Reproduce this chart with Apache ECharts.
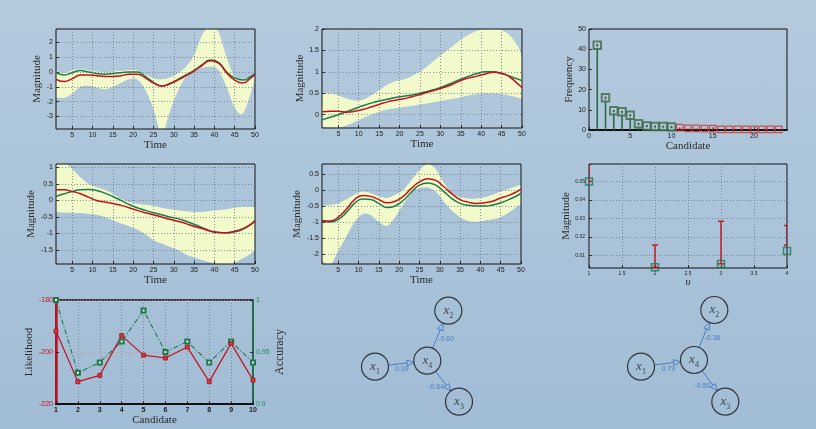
<!DOCTYPE html>
<html>
<head>
<meta charset="utf-8">
<script src="https://cdn.jsdelivr.net/npm/echarts@6/dist/echarts.min.js"></script>
<style>
  html, body { margin: 0; padding: 0; }
  #chart { width: 816px; height: 429px; background: linear-gradient(180deg, #b4cadd 0%, #aac3d9 55%, #a1bcd5 100%); }
</style>
</head>
<body>
<div id="chart"></div>
<script>
// ---- time samples shared by the four regression panels ----
const tGrid = [1, 3, 5, 7, 9, 11, 13, 15, 17, 19, 21, 23, 25, 27, 29, 31, 33, 35, 37, 39, 41, 43, 45, 47, 49, 50];
const timeTicks = [5, 10, 15, 20, 25, 30, 35, 40, 45, 50];

// panel A (top left)
const aLower = [-1.7, -1.75, -1.45, -1.0, -0.93, -1.05, -1.17, -1.02, -0.75, -0.5, -0.5, -1.2, -2.5, -4.2, -2.7, -1.3, -0.3, 0.1, 0.28, 0.35, 0.15, -1.0, -2.4, -2.8, -1.4, -0.35];
const aUpper = [0.05, -0.05, 0.1, 0.2, 0.12, 0.03, -0.02, 0.03, 0.08, 0.12, 0.1, -0.15, -0.42, -0.5, -0.38, -0.1, 0.35, 1.15, 2.5, 3.1, 2.7, 1.0, -0.3, -0.45, -0.3, -0.1];
const aGreen = [-0.05, -0.2, -0.05, 0.1, 0.0, -0.1, -0.15, -0.1, -0.05, 0.0, 0.0, -0.3, -0.7, -0.95, -0.8, -0.5, -0.2, 0.1, 0.5, 0.8, 0.65, 0.0, -0.4, -0.55, -0.3, -0.1];
const aRed = [-0.5, -0.65, -0.45, -0.2, -0.2, -0.25, -0.3, -0.3, -0.25, -0.15, -0.15, -0.4, -0.75, -0.95, -0.8, -0.55, -0.25, 0.05, 0.45, 0.75, 0.6, -0.05, -0.55, -0.75, -0.4, -0.15];
const aTicks = [-3, -2, -1, 0, 1, 2];

// panel B (top middle)
const bLower = [-0.28, -0.3, -0.3, -0.25, -0.17, -0.08, 0.0, 0.07, 0.12, 0.15, 0.18, 0.21, 0.24, 0.27, 0.3, 0.34, 0.37, 0.41, 0.45, 0.48, 0.5, 0.5, 0.48, 0.45, 0.4, 0.37];
const bUpper = [0.47, 0.5, 0.45, 0.38, 0.33, 0.35, 0.45, 0.57, 0.7, 0.78, 0.82, 0.9, 1.0, 1.15, 1.3, 1.45, 1.6, 1.75, 1.87, 1.96, 2.0, 2.02, 1.97, 1.85, 1.6, 1.35];
const bGreen = [-0.12, -0.06, 0.0, 0.07, 0.14, 0.21, 0.27, 0.32, 0.36, 0.4, 0.43, 0.46, 0.5, 0.55, 0.6, 0.67, 0.75, 0.83, 0.9, 0.96, 1.0, 1.0, 0.96, 0.9, 0.83, 0.79];
const bRed = [0.07, 0.08, 0.08, 0.06, 0.08, 0.12, 0.18, 0.24, 0.3, 0.34, 0.37, 0.42, 0.47, 0.53, 0.58, 0.64, 0.71, 0.8, 0.86, 0.9, 0.95, 0.99, 0.97, 0.88, 0.72, 0.63];
const bTicks = [0, 0.5, 1, 1.5, 2];

// panel C (middle left)
const cLower = [-0.35, -0.37, -0.37, -0.38, -0.4, -0.43, -0.5, -0.6, -0.7, -0.78, -0.88, -1.02, -1.2, -1.3, -1.4, -1.5, -1.63, -1.72, -1.8, -1.87, -1.92, -1.95, -1.88, -1.75, -1.6, -1.48];
const cUpper = [1.1, 1.15, 0.95, 0.7, 0.5, 0.4, 0.32, 0.2, 0.05, -0.05, -0.1, -0.13, -0.17, -0.22, -0.27, -0.3, -0.33, -0.35, -0.35, -0.32, -0.3, -0.27, -0.22, -0.2, -0.2, -0.2];
const cGreen = [0.12, 0.2, 0.27, 0.32, 0.33, 0.3, 0.22, 0.12, 0.0, -0.12, -0.22, -0.3, -0.37, -0.43, -0.5, -0.55, -0.63, -0.72, -0.82, -0.92, -0.97, -0.98, -0.95, -0.87, -0.72, -0.6];
const cRed = [0.32, 0.32, 0.27, 0.2, 0.1, 0.0, -0.05, -0.09, -0.15, -0.22, -0.3, -0.37, -0.43, -0.5, -0.57, -0.63, -0.7, -0.78, -0.85, -0.93, -0.97, -0.98, -0.93, -0.85, -0.72, -0.63];
const cTicks = [-1.5, -1, -0.5, 0, 0.5, 1];

// panel D (middle centre)
const dLower = [-2.2, -2.35, -1.9, -1.45, -1.0, -0.75, -0.78, -1.0, -1.12, -0.85, -0.45, -0.1, 0.05, 0.08, -0.05, -0.36, -0.65, -0.85, -0.97, -1.0, -0.95, -0.92, -0.85, -0.7, -0.52, -0.45];
const dUpper = [-0.5, -0.47, -0.42, -0.3, -0.15, -0.05, -0.1, -0.2, -0.25, -0.15, 0.0, 0.3, 0.62, 0.8, 0.65, 0.22, -0.1, -0.22, -0.27, -0.27, -0.23, -0.15, -0.05, 0.03, 0.12, 0.16];
const dRed = [-0.95, -0.97, -0.85, -0.6, -0.3, -0.17, -0.2, -0.3, -0.4, -0.35, -0.2, 0.05, 0.25, 0.35, 0.3, 0.1, -0.12, -0.3, -0.38, -0.42, -0.4, -0.35, -0.25, -0.17, -0.05, 0.03];
const dGreen = [-0.97, -1.0, -0.92, -0.7, -0.42, -0.28, -0.3, -0.42, -0.55, -0.5, -0.33, -0.07, 0.15, 0.22, 0.15, -0.05, -0.27, -0.42, -0.48, -0.5, -0.5, -0.47, -0.4, -0.3, -0.18, -0.1];
const dTicks = [-2, -1.5, -1, -0.5, 0, 0.5];

// panel E: candidate frequencies (first ones kept)
const candIds = [1, 2, 3, 4, 5, 6, 7, 8, 9, 10, 11, 12, 13, 14, 15, 16, 17, 18, 19, 20, 21, 22, 23];
const candFreq = [42, 16, 9.5, 9, 7.3, 3.1, 2.0, 1.7, 1.7, 1.5, 1.2, 0.8, 0.8, 0.7, 0.7, 0.3, 0.3, 0.3, 0.3, 0.3, 0.3, 0.3, 0.3];
const candTicks = [0, 5, 10, 15, 20];
const keptCount = 10;

// panel F: magnitude estimates with error bars
const upsX = [1, 2, 3, 4];
const upsMag = [0.050, 0.0037, 0.0055, 0.0125];
const upsErrLow = [0.050, 0.0037, 0.0055, 0.0156];
const upsErrHigh = [0.0592, 0.0157, 0.0285, 0.0262];
const upsTicks = [0.01, 0.02, 0.03, 0.04, 0.05];

// panel G: likelihood and accuracy per candidate
const gCand = [1, 2, 3, 4, 5, 6, 7, 8, 9, 10];
const gLikelihood = [-192.0, -211.4, -209.0, -193.7, -201.2, -202.3, -198.1, -211.4, -196.7, -210.8];
const gAccuracy = [1.0, 0.930, 0.940, 0.960, 0.990, 0.950, 0.960, 0.940, 0.960, 0.940];

// networks: node layout (x1..x4) and weighted edges
const netSubs = ['1', '2', '3', '4'];
const netAPos = [[3.5, 5.33], [10.83, 10.93], [11.9, 1.83], [8.73, 5.93]];
const netBPos = [[3.1, 5.33], [10.43, 11.0], [11.53, 1.83], [8.4, 6.0]];
const netEdges = [[0, 3], [3, 1], [3, 2]];
const netAWeights = [0.39, -0.60, -0.64];
const netBWeights = [0.79, -0.36, -0.50];

// ---- styling ----
const SANS = 'Liberation Sans, Arial, sans-serif';
const SERIF = 'Liberation Serif, DejaVu Serif, serif';
const RED = '#c3121e', GREEN = '#1d7a4b', BAND = '#f2facb', DOT = '#6b7784', EDGE = '#4a7cc6';
const NODE_R = 13.5;

const pairs = (xs, ys) => xs.map((x, i) => [x, ys[i]]);

const grids = [], xAxes = [], yAxes = [], series = [];

function addGrid(rect, opts) {
  grids.push(Object.assign({
    show: true, borderColor: '#111', borderWidth: 1, backgroundColor: 'transparent',
    containLabel: false, outerBoundsMode: 'none'
  }, rect, opts || {}));
  return grids.length - 1;
}

function axis(gi, o) {
  const a = {
    gridIndex: gi, type: 'value', min: o.min, max: o.max,
    axisLine: { show: !!o.line, onZero: false, lineStyle: o.line || {} },
    axisTick: { show: true, inside: true, length: 3, lineStyle: { color: '#111', width: 0.8 } },
    axisLabel: {
      fontSize: o.fs || 7, color: o.labelColor || '#1a1a1a', fontFamily: SANS,
      margin: o.margin !== undefined ? o.margin : 3, fontWeight: o.bold ? 'bold' : 'normal'
    },
    splitLine: o.grid === false ? { show: false }
      : { show: true, lineStyle: { color: o.gridColor || DOT, type: [1, 2], width: 0.8 } },
    name: o.name || '', nameLocation: 'middle', nameGap: o.gap || 10,
    nameTextStyle: {
      fontFamily: SERIF, fontSize: o.nfs || 11, color: '#2a2a2a',
      fontStyle: o.italic ? 'italic' : 'normal'
    }
  };
  if (o.ticks) { a.axisTick.customValues = o.ticks; a.axisLabel.customValues = o.ticks; }
  if (o.interval) a.interval = o.interval;
  if (o.y) a.nameRotate = 90;
  if (o.position) a.position = o.position;
  if (o.hidden) a.show = false;
  return a;
}

// cubic segments through pixel points (Catmull-Rom style)
function splinePath(p) {
  let s = '';
  for (let i = 0; i < p.length - 1; i++) {
    const p0 = p[Math.max(i - 1, 0)], p1 = p[i], p2 = p[i + 1], p3 = p[Math.min(i + 2, p.length - 1)];
    const c1 = [p1[0] + (p2[0] - p0[0]) / 6, p1[1] + (p2[1] - p0[1]) / 6];
    const c2 = [p2[0] - (p3[0] - p1[0]) / 6, p2[1] - (p3[1] - p1[1]) / 6];
    s += 'C' + c1[0] + ',' + c1[1] + ' ' + c2[0] + ',' + c2[1] + ' ' + p2[0] + ',' + p2[1];
  }
  return s;
}

// shaded confidence band between lower and upper bounds
function bandSeries(xi, yi, lower, upper) {
  return {
    type: 'custom', xAxisIndex: xi, yAxisIndex: yi, clip: true, silent: true, z: -1,
    data: tGrid.map((t, i) => [t, lower[i], upper[i]]),
    encode: { x: 0, y: [1, 2] },
    renderItem: (params, api) => {
      if (params.dataIndexInside !== 0) return null;
      const n = params.dataInsideLength;
      const up = [], lo = [];
      for (let j = 0; j < n; j++) {
        up.push(api.coord([api.value(0, j), api.value(2, j)]));
        lo.push(api.coord([api.value(0, j), api.value(1, j)]));
      }
      const loRev = lo.slice().reverse();
      const d = 'M' + up[0][0] + ',' + up[0][1] + splinePath(up) +
        'L' + loRev[0][0] + ',' + loRev[0][1] + splinePath(loRev) + 'Z';
      return { type: 'path', shape: { pathData: d }, style: { fill: BAND } };
    }
  };
}

// regression panel: shaded band, green and red mean curves
function gpPanel(rect, yMin, yMax, yTicks, lower, upper, green, red, yGap) {
  const gi = addGrid(rect);
  xAxes.push(axis(gi, { min: 1, max: 50, ticks: timeTicks, name: 'Time', gap: 7 }));
  yAxes.push(axis(gi, { min: yMin, max: yMax, ticks: yTicks, name: 'Magnitude', gap: yGap, y: true }));
  const xi = xAxes.length - 1, yi = yAxes.length - 1;
  series.push(bandSeries(xi, yi, lower, upper));
  const common = { type: 'line', xAxisIndex: xi, yAxisIndex: yi, smooth: 0.5, symbol: 'none', silent: true };
  series.push(Object.assign({}, common, { data: pairs(tGrid, green), lineStyle: { color: GREEN, width: 1.5 } }));
  series.push(Object.assign({}, common, { data: pairs(tGrid, red), lineStyle: { color: RED, width: 1.5 } }));
}

gpPanel({ left: 56, top: 29, width: 199, height: 100 }, -3.85, 2.9, aTicks, aLower, aUpper, aGreen, aRed, 11);
gpPanel({ left: 322, top: 29, width: 200, height: 99 }, -0.31, 2, bTicks, bLower, bUpper, bGreen, bRed, 13);
gpPanel({ left: 56, top: 164, width: 199, height: 100 }, -1.92, 1.1, cTicks, cLower, cUpper, cGreen, cRed, 18);
gpPanel({ left: 322, top: 164, width: 199, height: 100 }, -2.31, 0.81, dTicks, dLower, dUpper, dGreen, dRed, 19);

// ---- panel E: stem plot of candidate frequencies ----
{
  const gi = addGrid({ left: 589, top: 29, width: 198, height: 101 });
  xAxes.push(axis(gi, { min: 0, max: 24, ticks: candTicks, name: 'Candidate', gap: 8, grid: false,
    line: { color: '#111', width: 1.8 } }));
  yAxes.push(axis(gi, { min: 0, max: 50, interval: 10, name: 'Frequency', gap: 12, y: true, grid: false }));
  const xi = xAxes.length - 1, yi = yAxes.length - 1;
  const isKept = i => i < keptCount;
  series.push({
    type: 'bar', xAxisIndex: xi, yAxisIndex: yi, barWidth: 1.6, silent: true,
    data: candIds.map((c, i) => ({ value: [c, candFreq[i]], itemStyle: { color: isKept(i) ? '#2d6b47' : RED } }))
  });
  series.push({
    type: 'scatter', xAxisIndex: xi, yAxisIndex: yi, symbol: 'rect', silent: true,
    data: candIds.map((c, i) => ({
      value: [c, candFreq[i]],
      symbolSize: isKept(i) ? 7.5 : 6.5,
      itemStyle: isKept(i)
        ? { color: 'rgba(185,205,218,0.9)', borderColor: '#3c6a4b', borderWidth: 2 }
        : { color: 'rgba(0,0,0,0)', borderColor: '#c9322e', borderWidth: 1.2 }
    }))
  });
  series.push({
    type: 'scatter', xAxisIndex: xi, yAxisIndex: yi, symbol: 'rect', symbolSize: 2, silent: true,
    itemStyle: { color: '#2b3a33' },
    data: pairs(candIds.slice(0, keptCount), candFreq.slice(0, keptCount))
  });
}

// ---- panel F: magnitude vs upsilon with error bars ----
{
  const gi = addGrid({ left: 589, top: 164, width: 198, height: 104 });
  xAxes.push(axis(gi, { min: 1, max: 4, interval: 0.5, name: 'υ', italic: true, gap: 5, fs: 5, margin: 3 }));
  yAxes.push(axis(gi, { min: 0.0033, max: 0.0594, ticks: upsTicks, name: 'Magnitude', gap: 14, y: true, fs: 5, margin: 4 }));
  const xi = xAxes.length - 1, yi = yAxes.length - 1;
  series.push({
    type: 'custom', xAxisIndex: xi, yAxisIndex: yi, clip: true, silent: true,
    data: upsX.map((x, i) => [x, upsErrLow[i], upsErrHigh[i]]),
    encode: { x: 0, y: [1, 2] },
    renderItem: (params, api) => {
      const lo = api.coord([api.value(0), api.value(1)]);
      const hi = api.coord([api.value(0), api.value(2)]);
      const cap = 3;
      const st = { stroke: RED, lineWidth: 1.4 };
      return {
        type: 'group', children: [
          { type: 'line', shape: { x1: lo[0], y1: lo[1], x2: hi[0], y2: hi[1] }, style: st },
          { type: 'line', shape: { x1: lo[0] - cap, y1: lo[1], x2: lo[0] + cap, y2: lo[1] }, style: st },
          { type: 'line', shape: { x1: hi[0] - cap, y1: hi[1], x2: hi[0] + cap, y2: hi[1] }, style: st }
        ]
      };
    }
  });
  series.push({
    type: 'scatter', xAxisIndex: xi, yAxisIndex: yi, symbol: 'rect', symbolSize: 7, silent: true,
    itemStyle: { color: 'rgba(0,0,0,0)', borderColor: GREEN, borderWidth: 1.5 },
    data: pairs(upsX, upsMag)
  });
}

// ---- panel G: likelihood (left axis) and accuracy (right axis) ----
{
  const gi = addGrid({ left: 56, top: 300, width: 197, height: 104 }, { borderWidth: 1.5 });
  xAxes.push(axis(gi, { min: 1, max: 10, interval: 1, name: 'Candidate', gap: 8, bold: true,
    line: { color: '#111', width: 2 } }));
  yAxes.push(axis(gi, { min: -220, max: -180, interval: 20, name: 'Likelihood', gap: 19, y: true,
    labelColor: RED, gridColor: '#d58a8f', line: { color: RED, width: 2.5 } }));
  yAxes.push(axis(gi, { min: 0.9, max: 1, interval: 0.05, name: 'Accuracy', gap: 13, nfs: 12, y: true,
    position: 'right', labelColor: '#238a57', grid: false, line: { color: GREEN, width: 1.5 } }));
  const xi = xAxes.length - 1;
  series.push({
    type: 'line', xAxisIndex: xi, yAxisIndex: yAxes.length - 1, silent: true,
    data: pairs(gCand, gAccuracy), symbol: 'emptyRect', symbolSize: 4,
    lineStyle: { color: GREEN, width: 1.1, type: [5, 2, 1.2, 2] }, itemStyle: { color: GREEN }
  });
  series.push({
    type: 'line', xAxisIndex: xi, yAxisIndex: yAxes.length - 2, silent: true,
    data: pairs(gCand, gLikelihood), symbol: 'rect', symbolSize: 4,
    lineStyle: { color: RED, width: 1.2 }, itemStyle: { color: '#d23a3a', borderColor: '#a80f18', borderWidth: 0.8 }
  });
}

// ---- networks ----
function edgeItem(params, api) {
  const a = api.coord([api.value(0), api.value(1)]);
  const b = api.coord([api.value(2), api.value(3)]);
  const w = api.value(4);
  const dx = b[0] - a[0], dy = b[1] - a[1], L = Math.hypot(dx, dy);
  const ux = dx / L, uy = dy / L, nx = -uy, ny = ux;
  const s = [a[0] + ux * NODE_R, a[1] + uy * NODE_R];
  const tip = [b[0] - ux * NODE_R, b[1] - uy * NODE_R];
  const ah = 7, aw = 3;
  const base = [tip[0] - ux * ah, tip[1] - uy * ah];
  const off = 1 + Math.abs(nx) * 7 + Math.abs(ny) * 4;
  const mid = [(a[0] + b[0]) / 2 + nx * off, (a[1] + b[1]) / 2 + ny * off];
  return {
    type: 'group', children: [
      { type: 'line', shape: { x1: s[0], y1: s[1], x2: base[0], y2: base[1] }, style: { stroke: EDGE, lineWidth: 1 } },
      { type: 'polygon', shape: { points: [tip, [base[0] + nx * aw, base[1] + ny * aw], [base[0] - nx * aw, base[1] - ny * aw]] },
        style: { fill: 'none', stroke: EDGE, lineWidth: 1 } },
      { type: 'text', x: mid[0], y: mid[1],
        style: { text: w.toFixed(2), fill: EDGE, fontSize: 7, fontFamily: SANS, align: 'center', verticalAlign: 'middle' } }
    ]
  };
}

function netPanel(rect, pos, weights) {
  const gi = addGrid(rect, { show: false });
  xAxes.push(axis(gi, { min: 0, max: 16, hidden: true, grid: false }));
  yAxes.push(axis(gi, { min: 0, max: 13, hidden: true, grid: false }));
  const xi = xAxes.length - 1, yi = yAxes.length - 1;
  series.push({
    type: 'custom', xAxisIndex: xi, yAxisIndex: yi, silent: true,
    data: netEdges.map((e, i) => [pos[e[0]][0], pos[e[0]][1], pos[e[1]][0], pos[e[1]][1], weights[i]]),
    encode: { x: [0, 2], y: [1, 3] },
    renderItem: edgeItem
  });
  series.push({
    type: 'scatter', xAxisIndex: xi, yAxisIndex: yi, silent: true,
    symbol: 'circle', symbolSize: NODE_R * 2,
    itemStyle: { color: 'rgba(0,0,0,0)', borderColor: '#141414', borderWidth: 1.2 },
    data: pos.map((p, i) => ({ value: p, sub: netSubs[i] })),
    label: {
      show: true, position: 'inside',
      formatter: p => '{x|x}{s|' + p.data.sub + '}',
      rich: {
        x: { fontFamily: SERIF, fontStyle: 'italic', fontSize: 13, color: '#262626', lineHeight: 18 },
        s: { fontFamily: SERIF, fontSize: 8, color: '#262626', lineHeight: 9, verticalAlign: 'bottom' }
      }
    }
  });
}

netPanel({ left: 340, top: 290, width: 160, height: 130 }, netAPos, netAWeights);
netPanel({ left: 610, top: 290, width: 160, height: 130 }, netBPos, netBWeights);

const chart = echarts.init(document.getElementById('chart'), null, { renderer: 'canvas' });
chart.setOption({
  backgroundColor: 'transparent',
  animation: false,
  grid: grids,
  xAxis: xAxes,
  yAxis: yAxes,
  series: series
});
</script>
</body>
</html>
